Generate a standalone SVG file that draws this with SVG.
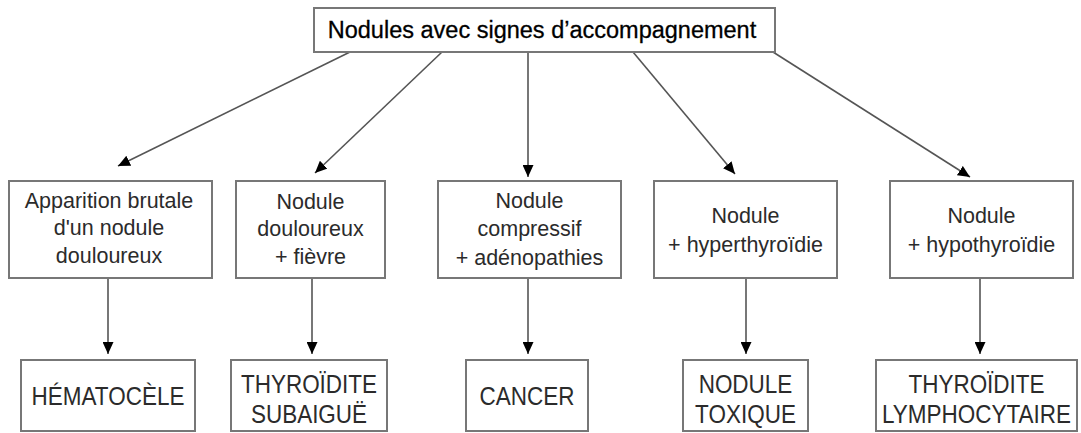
<svg xmlns="http://www.w3.org/2000/svg" width="1081" height="433" viewBox="0 0 1081 433">
  <defs>
    <marker id="arrow" viewBox="0 0 12 11" refX="12" refY="5.5" markerWidth="12" markerHeight="11" markerUnits="userSpaceOnUse" orient="auto">
      <path d="M0,0 L12,5.5 L0,11 Z" fill="#000"/>
    </marker>
    <style>
      .box { fill: #fff; stroke: #777; stroke-width: 2; }
      .edge { fill: none; stroke: #555; stroke-width: 1.6; marker-end: url(#arrow); }
      .t { font-family: "Liberation Sans", Arial, sans-serif; text-anchor: middle; fill: #2b2b2b; }
      .title { font-size: 23.5px; fill: #000; stroke: #000; stroke-width: 0.3; }
      .mid { font-size: 21.5px; }
      .res { font-size: 22.5px; }
    </style>
  </defs>
  <rect width="1081" height="433" fill="#fff"/>

  <!-- connectors -->
  <g id="connectors">
    <line class="edge" x1="350" y1="52" x2="118" y2="166"/>
    <line class="edge" x1="442" y1="52" x2="315" y2="173"/>
    <line class="edge" x1="528" y1="52" x2="528" y2="177"/>
    <line class="edge" x1="633" y1="52" x2="735" y2="174"/>
    <line class="edge" x1="773" y1="52" x2="970" y2="177"/>
    <line class="edge" x1="108" y1="278" x2="108" y2="354"/>
    <line class="edge" x1="312" y1="278" x2="312" y2="354"/>
    <line class="edge" x1="528" y1="278" x2="528" y2="354"/>
    <line class="edge" x1="746" y1="278" x2="746" y2="354"/>
    <line class="edge" x1="980" y1="278" x2="980" y2="354"/>
  </g>

  <!-- root -->
  <g id="root">
    <rect class="box" x="314" y="8" width="461" height="44"/>
    <text class="t title" x="542" y="37.5">Nodules avec signes d’accompagnement</text>
  </g>

  <!-- signs -->
  <g id="sign-brutal">
    <rect class="box" x="9" y="181" width="203" height="97"/>
    <text class="t mid" x="109" y="208">Apparition brutale</text>
    <text class="t mid" x="109" y="235">d'un nodule</text>
    <text class="t mid" x="109" y="263">douloureux</text>
  </g>
  <g id="sign-fever">
    <rect class="box" x="236" y="181" width="149" height="97"/>
    <text class="t mid" x="310.5" y="209">Nodule</text>
    <text class="t mid" x="310.5" y="236">douloureux</text>
    <text class="t mid" x="310.5" y="264">+ fièvre</text>
  </g>
  <g id="sign-compressive">
    <rect class="box" x="438" y="181" width="183" height="97"/>
    <text class="t mid" x="529.5" y="208">Nodule</text>
    <text class="t mid" x="529.5" y="236">compressif</text>
    <text class="t mid" x="529.5" y="265">+ adénopathies</text>
  </g>
  <g id="sign-hyper">
    <rect class="box" x="654" y="181" width="183" height="97"/>
    <text class="t mid" x="745.5" y="223">Nodule</text>
    <text class="t mid" x="745.5" y="252">+ hyperthyroïdie</text>
  </g>
  <g id="sign-hypo">
    <rect class="box" x="890" y="181" width="183" height="97"/>
    <text class="t mid" x="981.5" y="223">Nodule</text>
    <text class="t mid" x="981.5" y="252">+ hypothyroïdie</text>
  </g>

  <!-- diagnoses -->
  <g id="dx-hematocele">
    <rect class="box" x="21" y="360" width="174" height="71"/>
    <text class="t res" transform="translate(108,405) scale(1,1.15)">HÉMATOCÈLE</text>
  </g>
  <g id="dx-subacute">
    <rect class="box" x="231" y="360" width="156" height="71"/>
    <text class="t res" transform="translate(309,393) scale(1,1.15)">THYROÏDITE</text>
    <text class="t res" transform="translate(309,423) scale(1,1.15)">SUBAIGUË</text>
  </g>
  <g id="dx-cancer">
    <rect class="box" x="466" y="360" width="122" height="71"/>
    <text class="t res" transform="translate(527,405) scale(1,1.15)">CANCER</text>
  </g>
  <g id="dx-toxic">
    <rect class="box" x="683" y="360" width="125" height="71"/>
    <text class="t res" transform="translate(745.5,393) scale(1,1.15)">NODULE</text>
    <text class="t res" transform="translate(745.5,423) scale(1,1.15)">TOXIQUE</text>
  </g>
  <g id="dx-lympho">
    <rect class="box" x="876" y="360" width="201" height="71"/>
    <text class="t res" transform="translate(976.5,393) scale(1,1.15)">THYROÏDITE</text>
    <text class="t res" transform="translate(976.5,423) scale(1,1.15)">LYMPHOCYTAIRE</text>
  </g>
</svg>
